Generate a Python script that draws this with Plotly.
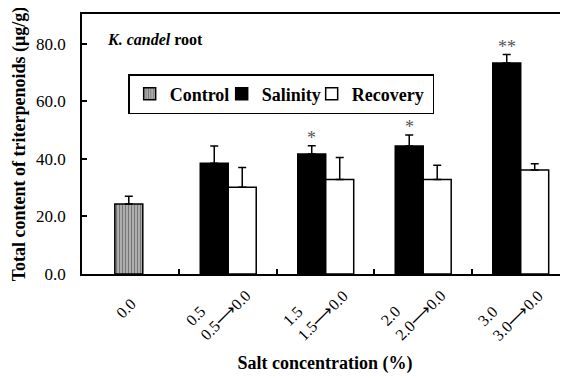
import plotly.graph_objects as go

# ---- data ----
groups = ["g0", "g1", "g2", "g3", "g4"]
tick_labels = ["0.0", "0.5<br>0.5⟶0.0", "1.5<br>1.5⟶0.0", "2.0<br>2.0⟶0.0", "3.0<br>3.0⟶0.0"]

control_x = ["g0"]
control_vals = [24.3]
control_err = [2.7]

salinity_x = ["g1", "g2", "g3", "g4"]
salinity_vals = [38.5, 41.7, 44.5, 73.4]
salinity_err = [6.0, 2.9, 3.8, 2.9]

recovery_x = ["g1", "g2", "g3", "g4"]
recovery_vals = [30.2, 32.9, 32.9, 36.2]
recovery_err = [6.8, 7.6, 4.9, 2.1]

sig_marks = ["", "*", "*", "**"]  # above salinity bars

FONT = "Liberation Serif"
BW = 0.287

fig = go.Figure()
fig.add_trace(go.Bar(
    name="Control", x=control_x, y=control_vals, width=BW, offset=-BW / 2 - 0.02,
    legendwidth=47,
    marker=dict(color="#b0b0b0", line=dict(color="black", width=1.5),
                pattern=dict(shape="|", fgcolor="#333333", bgcolor="#b8b8b8", size=3, solidity=0.45)),
    error_y=dict(type="data", array=control_err, arrayminus=[0] * len(control_err), symmetric=False,
                 color="black", thickness=1.5, width=4),
))
fig.add_trace(go.Bar(
    name="Salinity", x=salinity_x, y=salinity_vals, width=BW, offset=-BW,
    legendwidth=45,
    marker=dict(color="black", line=dict(color="black", width=1.5)),
    error_y=dict(type="data", array=salinity_err, arrayminus=[0] * len(salinity_err), symmetric=False,
                 color="black", thickness=1.5, width=4),
))
fig.add_trace(go.Bar(
    name="Recovery", x=recovery_x, y=recovery_vals, width=BW, offset=0,
    legendwidth=76,
    marker=dict(color="white", line=dict(color="black", width=1.5)),
    error_y=dict(type="data", array=recovery_err, arrayminus=[0] * len(recovery_err), symmetric=False,
                 color="black", thickness=1.5, width=4),
))

annotations = []
# significance stars
for i, (x, v, e, m) in enumerate(zip(salinity_x, salinity_vals, salinity_err, sig_marks)):
    if m:
        annotations.append(dict(x=groups.index(x) - BW / 2, y=v + e, xref="x", yref="y",
                                text=m, showarrow=False, yanchor="bottom", xanchor="center",
                                yshift=-4,
                                font=dict(family=FONT, size=18, color="#555555")))
# rotated category labels
for i, lab in enumerate(tick_labels):
    annotations.append(dict(x=i, y=-0.132, xref="x", yref="paper", text=lab, showarrow=False,
                            textangle=-45, align="left", xanchor="center", yanchor="middle",
                            xshift=-5 if i == 0 else -10,
                            font=dict(family=FONT, size=16, color="black")))
annotations.append(dict(x=0.047, y=0.9, xref="paper", yref="paper",
                        text="<b><i>K. candel</i> root</b>", showarrow=False,
                        xanchor="left", yanchor="middle",
                        font=dict(family=FONT, size=16, color="black")))

fig.update_layout(
    width=568, height=378,
    # page body adds an 8px offset; margins compensate so the plot box lands where the reference has it
    margin=dict(l=74, r=8, t=6, b=112),
    paper_bgcolor="white", plot_bgcolor="white",
    barmode="overlay",
    font=dict(family=FONT, color="black"),
    showlegend=True,
    legend=dict(orientation="h", x=0.095, y=0.769, xanchor="left", yanchor="top",
                bordercolor="black", borderwidth=1.5, bgcolor="white",
                font=dict(family=FONT, size=18, color="black", weight="bold"),
                traceorder="normal"),
    annotations=annotations,
)
fig.update_xaxes(
    type="category", categoryorder="array", categoryarray=groups,
    range=[-0.5, 4.485], showticklabels=False, automargin=False,
    showline=True, linecolor="black", linewidth=1.5, mirror=True,
    ticks="inside", ticklen=5, tickcolor="black", tickwidth=1.5, tickson="boundaries",
    showgrid=False, zeroline=False,
    title=dict(text="<b>Salt concentration (%)</b>", standoff=82,
               font=dict(family=FONT, size=18, color="black")),
)
fig.update_yaxes(
    range=[0, 90.4], tickvals=[0, 20, 40, 60, 80], tickformat=".1f", automargin=False,
    showline=True, linecolor="black", linewidth=1.5, mirror=False,
    ticks="inside", ticklen=5, tickcolor="black", tickwidth=1.5,
    ticklabelstandoff=11,
    tickfont=dict(family=FONT, size=17, color="black"),
    showgrid=False, zeroline=False,
    title=dict(text="<b>Total content of triterpenoids (μg/g)</b>", standoff=6,
               font=dict(family=FONT, size=18, color="black")),
)

fig.write_html("out.html")
